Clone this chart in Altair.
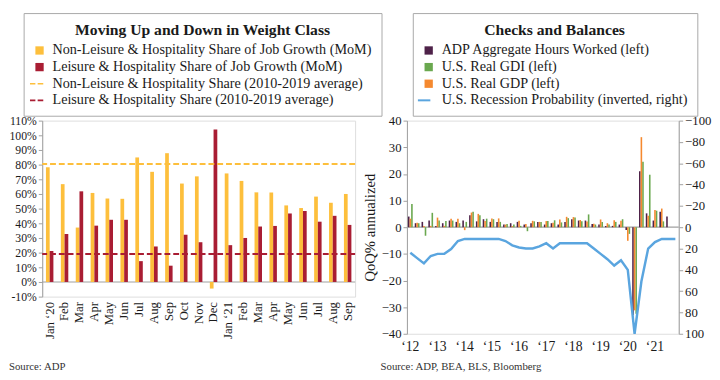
import json
import altair as alt
import pandas as pd

FONT = "Liberation Serif"
GRAY = "#A0A0A0"
TXT = "#1a1a1a"

# ---------------- left panel data ----------------
month_labels = ["Jan ‘20", "Feb", "Mar", "Apr", "May", "Jun", "Jul", "Aug", "Sep", "Oct", "Nov", "Dec",
                "Jan ‘21", "Feb", "Mar", "Apr", "May", "Jun", "Jul", "Aug", "Sep"]
non_lh_share = [78.2, 66.7, 37.1, 60.7, 56.9, 56.7, 84.9, 75.1, 87.8, 67.1, 72.0, -4.5,
                74.0, 68.9, 61.1, 61.0, 52.2, 50.4, 58.2, 54.0, 60.0]
lh_share = [21.1, 32.7, 61.8, 38.4, 42.4, 42.4, 14.2, 24.2, 11.1, 32.2, 27.1, 104.0,
            25.1, 30.0, 37.8, 38.2, 46.7, 48.4, 41.1, 45.1, 38.9]
avg_values = [80.5, 19.0]
left_series = ["Non-Leisure & Hospitality Share of Job Growth (MoM)",
               "Leisure & Hospitality Share of Job Growth (MoM)",
               "Non-Leisure & Hospitality Share (2010-2019 average)",
               "Leisure & Hospitality Share (2010-2019 average)"]
left_colors = ["#FDBF3C", "#A91D33", "#FDBF3C", "#A91D33"]

# ---------------- right panel data ----------------
year_labels = ["‘12", "‘13", "‘14", "‘15", "‘16", "‘17", "‘18", "‘19", "‘20", "‘21"]
adp_hours = [4.0, 1.5, 2.0, 2.5, 0.5, 1.5, 2.5, 2.0, 2.5, 4.5, 2.2, 3.0, 2.0, 2.0, 1.0, 1.5,
             2.0, 1.0, 1.5, 2.0, 1.0, 1.5, 1.0, 2.0, 3.0, 2.5, 2.5, 1.2, 1.0, 0.5, 0.5, 1.0,
             -1.0, -33.0, 21.0, 5.2, 2.5, 5.8, 4.0]
real_gdi = [8.7, 1.5, -3.2, 5.4, 2.5, 2.3, 2.5, 1.5, 2.0, 5.8, 4.5, 3.2, 3.0, 2.0, 1.2, 1.0,
            0.5, -1.5, 2.2, 2.0, 2.3, 2.6, 1.8, 3.4, 3.6, 2.2, 4.8, 1.0, 2.0, 1.0, 2.0, 3.0,
            -2.5, -32.5, 24.6, 19.7, 6.2, 2.2]
real_gdp = [3.2, 1.7, 0.5, 0.5, 3.6, 0.5, 3.2, 3.2, -1.1, 5.5, 5.0, 2.3, 3.3, 3.3, 1.0, 0.4,
            2.4, 1.2, 2.4, 2.0, 2.3, 1.7, 2.9, 3.9, 3.8, 2.7, 2.1, 1.3, 2.9, 1.5, 2.6, 2.4,
            -5.1, -31.2, 33.8, 4.3, 6.5, 7.0]
recession_prob = [24, 29, 34, 27, 25, 25, 20.5, 13, 11, 11, 11, 11, 11, 11, 13, 17,
                  19, 20, 20, 18, 15, 20, 15, 15, 15, 15, 15, 20, 25, 30, 36, 31,
                  40, 100, 51, 20, 14, 11, 11, 11]
right_series = ["ADP Aggregate Hours Worked (left)", "U.S. Real GDI (left)",
                "U.S. Real GDP (left)", "U.S. Recession Probability (inverted, right)"]
right_colors = ["#4E2249", "#6AA84F", "#F5892F", "#5AA5DF"]

SQUARE = "square"
DASH = "M-2.3,-0.2H-1V0.2H-2.3Z M-0.45,-0.2H0.9V0.2H-0.45Z"
LINE = "M-2.6,-0.24H0.4V0.24H-2.6Z"


def legend(title, x, y):
    return alt.Legend(title=title, orient="none", legendX=x, legendY=y, direction="vertical",
                      titleFont=FONT, titleFontSize=16, titleFontWeight="bold", titleColor=TXT,
                      titleAnchor="middle", titlePadding=6, titleLimit=600, labelFont=FONT,
                      labelFontSize=14.5, labelColor=TXT, labelLimit=600, symbolSize=72, symbolOpacity=1,
                      symbolStrokeWidth=0, strokeColor="#A8A8A8", padding=9, rowPadding=2,
                      labelOffset=6)


# ---------------- left chart ----------------
bars_left = pd.DataFrame({
    "m": list(range(len(month_labels))) * 2,
    "series": [left_series[0]] * len(non_lh_share) + [left_series[1]] * len(lh_share),
    "value": non_lh_share + lh_share,
})
avg_left = pd.DataFrame({"series": left_series[2:], "value": avg_values})
zero_df = pd.DataFrame({"value": [0]})

xl = alt.X("m:O", scale=alt.Scale(paddingInner=0.5, paddingOuter=0.25),
           axis=alt.Axis(title=None, labelExpr=json.dumps(month_labels, ensure_ascii=False) + "[datum.value]",
                         labelAngle=-90, domain=False, ticks=False, labelFont=FONT, labelFontSize=13,
                         labelColor=TXT, labelPadding=5))
yl = alt.Y("value:Q", scale=alt.Scale(domain=[-10, 110], nice=False),
           axis=alt.Axis(title=None, values=list(range(-10, 111, 10)), labelExpr="datum.value + '%'",
                         grid=False, domainColor=GRAY, tickColor=GRAY, tickSize=4, labelFont=FONT,
                         labelFontSize=12, labelColor=TXT, labelPadding=2))
col_l = alt.Scale(domain=left_series, range=left_colors)
leg_l = legend("Moving Up and Down in Weight Class", -19, -110)

l_zero = alt.Chart(zero_df).mark_rule(color=GRAY, strokeWidth=1.2).encode(y=yl)
l_bars = alt.Chart(bars_left).mark_bar().encode(
    x=xl, y=yl,
    xOffset=alt.XOffset("series:N", scale=alt.Scale(domain=left_series[:2])),
    color=alt.Color("series:N", scale=col_l, legend=leg_l))
l_avg = alt.Chart(avg_left).mark_rule(strokeDash=[6, 3], strokeWidth=2).encode(
    y=yl, color=alt.Color("series:N", scale=col_l, legend=leg_l))
l_pts = alt.Chart(bars_left).mark_point(filled=True, opacity=0).encode(
    x=xl, y=yl,
    color=alt.Color("series:N", scale=col_l, legend=leg_l),
    shape=alt.Shape("series:N", scale=alt.Scale(domain=left_series, range=[SQUARE, SQUARE, DASH, DASH]),
                    legend=leg_l))

left = alt.layer(l_zero, l_bars, l_avg, l_pts).properties(
    width=320, height=180,
    title=alt.TitleParams("Source: ADP", orient="bottom", anchor="start", frame="bounds",
                          font=FONT, fontSize=11, fontWeight="normal", color="#333", offset=23))

# ---------------- right chart ----------------
rows = []
for name, vals in [(right_series[0], adp_hours), (right_series[1], real_gdi), (right_series[2], real_gdp)]:
    for i, v in enumerate(vals):
        rows.append({"q": i, "series": name, "value": v})
bars_right = pd.DataFrame(rows)
line_right = pd.DataFrame({"q": list(range(len(recession_prob))), "prob": recession_prob})

xr = alt.X("q:O", scale=alt.Scale(domain=list(range(40)), paddingInner=0.3, paddingOuter=0.15),
           axis=alt.Axis(title=None, values=list(range(0, 40, 4)),
                         labelExpr=json.dumps(year_labels, ensure_ascii=False) + "[datum.value / 4]",
                         labelAngle=0, domain=False, ticks=False, labelFont=FONT, labelFontSize=14,
                         labelColor=TXT, labelPadding=6))
yr = alt.Y("value:Q", scale=alt.Scale(domain=[-40, 40], nice=False),
           axis=alt.Axis(title="QoQ% annualized", values=list(range(-40, 41, 10)), grid=False,
                         domainColor=GRAY, tickColor=GRAY, tickSize=4, labelFont=FONT, labelFontSize=13,
                         labelColor=TXT, labelPadding=2, titleFont=FONT, titleFontSize=15,
                         titleFontWeight="normal", titleColor=TXT, titlePadding=4))
col_r = alt.Scale(domain=right_series, range=right_colors)
leg_r = legend("Checks and Balances", 6, -110)

r_zero = alt.Chart(zero_df).mark_rule(color=GRAY, strokeWidth=1.2).encode(y=yr)
r_bars = alt.Chart(bars_right).mark_bar().encode(
    x=xr, y=yr,
    xOffset=alt.XOffset("series:N", scale=alt.Scale(domain=[right_series[0], right_series[2], right_series[1]])),
    color=alt.Color("series:N", scale=col_r, legend=leg_r))
r_pts = alt.Chart(bars_right).mark_point(filled=True, opacity=0).encode(
    x=xr, y=yr,
    color=alt.Color("series:N", scale=col_r, legend=leg_r),
    shape=alt.Shape("series:N", scale=alt.Scale(domain=right_series, range=[SQUARE, SQUARE, SQUARE, LINE]),
                    legend=leg_r))
r_line = alt.Chart(line_right).mark_line(color=right_colors[3], strokeWidth=2.5).encode(
    x=xr,
    y=alt.Y("prob:Q", scale=alt.Scale(domain=[-100, 100], reverse=True, nice=False),
            axis=alt.Axis(orient="right", title=None, values=list(range(-100, 101, 20)), grid=False,
                          domainColor=GRAY, tickColor=GRAY, tickSize=4, labelFont=FONT,
                          labelFontSize=13, labelColor=TXT, labelPadding=2)))

right = alt.layer(alt.layer(r_zero, r_bars, r_pts), r_line).resolve_scale(y="independent").properties(
    width=278, height=218,
    title=alt.TitleParams("Source: ADP, BEA, BLS, Bloomberg", orient="bottom", anchor="start", frame="group",
                          dx=-27, font=FONT, fontSize=11, fontWeight="normal", color="#333", offset=8))

chart = alt.hconcat(left, right, spacing=53, bounds="flush").resolve_scale(
    color="independent", shape="independent", xOffset="independent"
).resolve_legend(color="independent", shape="independent").properties(padding=0).configure_view(
    stroke=None).configure(font=FONT, background="white")

chart.save("out.html", embed_options={"renderer": "svg", "actions": False})
